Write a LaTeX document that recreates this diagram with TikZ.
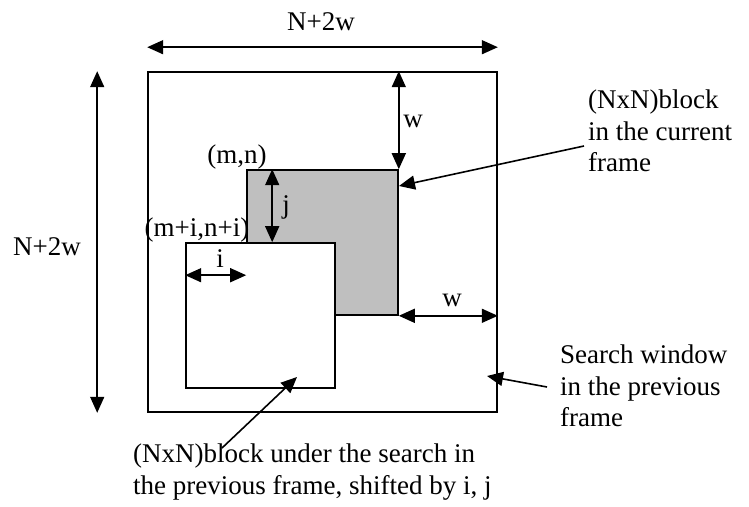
\documentclass[tikz,border=0pt]{standalone}
\usepackage{fontspec}
\setmainfont{Liberation Serif}
\usetikzlibrary{arrows.meta}

\begin{document}
\begin{tikzpicture}[x=1pt, y=-1pt,
  font=\fontsize{27}{31.5}\selectfont,
  winbox/.style={draw, line width=1.6pt, inner sep=0pt},
  dim/.style={{Triangle[length=16pt,width=14pt]}-{Triangle[length=16pt,width=14pt]}, line width=1.6pt},
  arrow/.style={-{Triangle[length=16pt,width=14pt]}, line width=1.6pt},
  lbl/.style={inner sep=0pt},
  note/.style={align=left, anchor=west, inner sep=0pt}
]
\useasboundingbox (0,0) rectangle (749,506);

% search window and the two blocks
\node[winbox, minimum width=349pt, minimum height=340pt] (win) at (322.5,242) {};
\node[winbox, fill=black!25, minimum width=151pt, minimum height=145pt] (cur) at (322.5,242.5) {};
\node[winbox, fill=white, minimum width=149pt, minimum height=145pt] (old) at (260.5,315.5) {};

% dimensions
\draw[dim] ([yshift=24pt]win.north west) -- ([yshift=24pt]win.north east);
\draw[dim] ([xshift=-50pt]win.north west) -- ([xshift=-50pt]win.south west);
\draw[dim] (cur.north east |- win.north) -- (cur.north east);
\draw[dim] (cur.south east) -- (cur.south east -| win.east);
\draw[dim] ([xshift=26pt]cur.north west) -- ([xshift=26pt]cur.north west |- old.north);
\draw[dim] ([yshift=-33pt]old.north west) -- ([yshift=-33pt]old.north west -| cur.west);

\node[lbl] (ntop)  at (321,22)  {N+2w};
\node[lbl] (nleft) at (47,247)  {N+2w};
\node[lbl] (wtop)  at (413,121) {w};
\node[lbl] (wright) at (452,300) {w};
\node[lbl] (jlbl)  at (286,207) {j};
\node[lbl] (ilbl)  at (220,259) {i};
\node[lbl] (mn)    at (237,157) {(m,n)};
\node[lbl] (mini)  at (197,230) {(m+i,n+i)};

% notes
\node[note] (curtxt) at (588,131) {(NxN)block\\in the current\\frame};
\node[note] (wintxt) at (560,386) {Search window\\in the previous\\frame};
\node[note] (oldtxt) at (133,472) {(NxN)block under the search in\\the previous frame, shifted by i, j};

\coordinate (c1) at (584,146);
\coordinate (c2) at (547,387);
\coordinate (c3) at (222,448);
\draw[arrow] (c1) -- (399,186);
\draw[arrow] (c2) -- (487,376);
\draw[arrow] (c3) -- (297,377);
\end{tikzpicture}
\end{document}
